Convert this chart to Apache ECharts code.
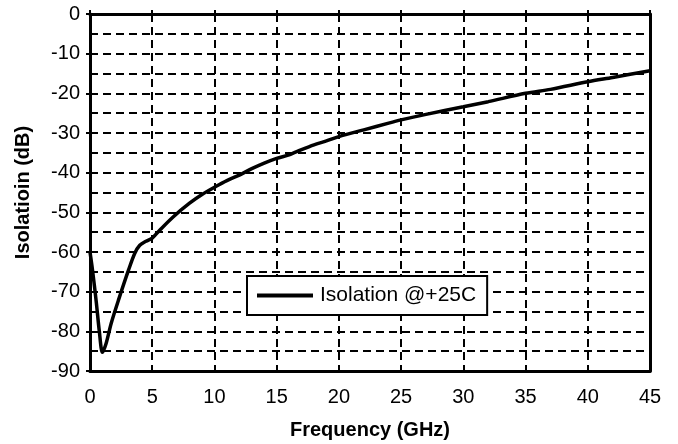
<!DOCTYPE html>
<html>
<head>
<meta charset="utf-8">
<script src="https://cdn.jsdelivr.net/npm/echarts@6/dist/echarts.min.js"></script>
<style>
  html, body { margin: 0; padding: 0; background: #fff; }
  #chart { width: 678px; height: 444px; }
</style>
</head>
<body>
<div id="chart"></div>
<script>
// values
const freqGHz = [0, 0.2, 0.5, 0.75, 1.0, 1.3, 1.7, 2.3, 3.1, 3.6, 4.0, 4.5, 5.0, 5.6, 6.7, 8.0, 9.0, 10.1, 11.0, 12.0, 13.0, 14.0, 15.0, 16.0, 17.0, 18.0, 19.0, 20.0, 22.0, 24.0, 25.0, 27.0, 30.0, 32.0, 35.0, 37.0, 40.0, 42.0, 45.0];
const isolationDb = [-60, -64.5, -72.5, -80, -85.3, -83, -78, -72, -64.5, -60.3, -58.3, -57.3, -56.5, -54.5, -51.1, -47.7, -45.5, -43.5, -42, -40.6, -39, -37.6, -36.4, -35.5, -34.2, -33, -32, -30.9, -29.2, -27.5, -26.7, -25.3, -23.4, -22.1, -20.0, -19.0, -17.1, -16.0, -14.3];
const xTicks = [0, 5, 10, 15, 20, 25, 30, 35, 40, 45];
const yTicks = [0, -10, -20, -30, -40, -50, -60, -70, -80, -90];

const FONT = '"Liberation Sans", Arial, sans-serif';
const dashed = { color: '#000', width: 2, type: [8, 5] };
const axisLine = { show: true, onZero: false, lineStyle: { color: '#000', width: 3 } };

const chart = echarts.init(document.getElementById('chart'), null, { renderer: 'canvas' });

chart.setOption({
  animation: false,
  backgroundColor: '#fff',
  grid: { left: 90, right: 28, top: 14, bottom: 73, outerBoundsMode: 'none' },
  legend: {
    left: 247,
    top: 276,
    orient: 'horizontal',
    backgroundColor: '#fff',
    borderColor: '#000',
    borderWidth: 2,
    borderRadius: 0,
    padding: [9, 11, 9, 10],
    icon: 'rect',
    itemWidth: 56,
    itemHeight: 4,
    itemGap: 7,
    textStyle: { fontFamily: FONT, fontSize: 21, color: '#000', padding: [0, 0, 0, 2] },
    data: ['Isolation @+25C']
  },
  xAxis: [
    {
      type: 'value',
      position: 'bottom',
      min: xTicks[0],
      max: xTicks[xTicks.length - 1],
      interval: 5,
      name: 'Frequency (GHz)',
      nameLocation: 'middle',
      nameGap: 49,
      nameTextStyle: { fontFamily: FONT, fontSize: 20, fontWeight: 'bold', color: '#000' },
      axisLine: axisLine,
      axisTick: { show: false },
      axisLabel: { fontFamily: FONT, fontSize: 20, color: '#000', margin: 16 },
      splitLine: { show: true, lineStyle: dashed }
    },
    {
      type: 'value',
      position: 'top',
      min: xTicks[0],
      max: xTicks[xTicks.length - 1],
      interval: 5,
      axisLine: axisLine,
      axisTick: { show: true, inside: false, length: 4, lineStyle: { color: '#000', width: 2 } },
      axisLabel: { show: false },
      splitLine: { show: false }
    }
  ],
  yAxis: [
    {
      type: 'value',
      position: 'left',
      min: yTicks[yTicks.length - 1],
      max: yTicks[0],
      interval: 10,
      name: 'Isolatioin (dB)',
      nameLocation: 'middle',
      nameGap: 57,
      nameTextStyle: { fontFamily: FONT, fontSize: 20, fontWeight: 'bold', color: '#000' },
      axisLine: axisLine,
      axisTick: { show: true, inside: false, length: 4, lineStyle: { color: '#000', width: 2 } },
      axisLabel: { fontFamily: FONT, fontSize: 20, color: '#000', margin: 10 },
      splitLine: { show: true, lineStyle: dashed },
      minorTick: { show: false, splitNumber: 2 },
      minorSplitLine: { show: true, lineStyle: dashed }
    },
    {
      type: 'value',
      position: 'right',
      min: yTicks[yTicks.length - 1],
      max: yTicks[0],
      interval: 10,
      axisLine: axisLine,
      axisTick: { show: false },
      axisLabel: { show: false },
      splitLine: { show: false }
    }
  ],
  series: [
    {
      name: 'Isolation @+25C',
      type: 'line',
      xAxisIndex: 0,
      yAxisIndex: 0,
      data: freqGHz.map((f, i) => [f, isolationDb[i]]),
      smooth: 0.3,
      showSymbol: false,
      symbol: 'none',
      lineStyle: { color: '#000', width: 3.5 },
      itemStyle: { color: '#000' }
    }
  ]
});
</script>
</body>
</html>
